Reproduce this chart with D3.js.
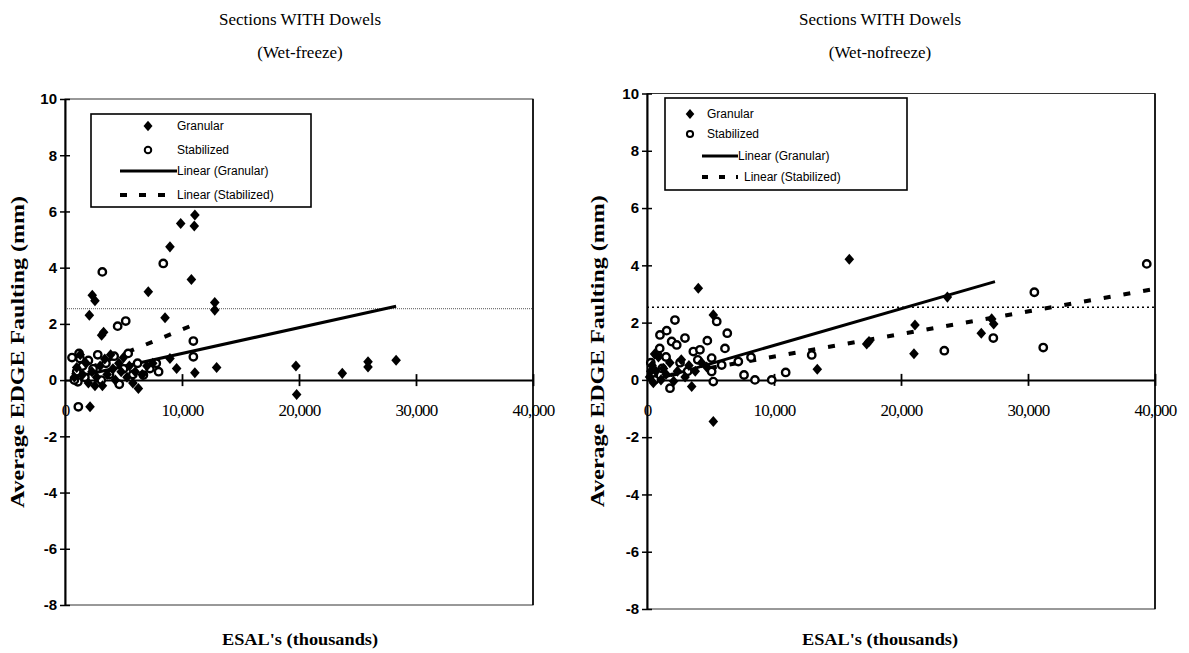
<!DOCTYPE html>
<html>
<head>
<meta charset="utf-8">
<script src="https://cdn.jsdelivr.net/npm/d3@7"></script>
<style>
  html, body { margin: 0; padding: 0; background: #fff; }
  svg { display: block; }
</style>
</head>
<body>
<svg id="chart" width="1189" height="653"></svg>
<script>
// ESAL's in thousands, average edge faulting in mm
const xTicks = [0, 10000, 20000, 30000, 40000];
const yTicks = [-8, -6, -4, -2, 0, 2, 4, 6, 8, 10];
const faultLimit = 2.54; // 0.1 in threshold

const legendLabels = ["Granular", "Stabilized", "Linear (Granular)", "Linear (Stabilized)"];

// Wet-freeze, granular base
const wetFreezeGranular = [
  [2330, 3.02], [2560, 2.82], [2080, 2.31], [7120, 3.14], [8970, 4.74], [9890, 5.57],
  [11100, 5.87], [11050, 5.48], [10800, 3.58], [12800, 2.76], [12800, 2.49], [8550, 2.22],
  [3130, 1.60], [3300, 1.70], [12960, 0.45], [11100, 0.26], [9540, 0.41], [8970, 0.77],
  [6270, -0.30], [2140, -0.95], [2560, -0.20], [19740, 0.50], [19800, -0.51], [23700, 0.24],
  [25900, 0.65], [25900, 0.47], [28300, 0.71],
  [800, 0.10], [1000, 0.45], [1300, 0.90], [1500, 0.20], [1800, 0.60], [2000, -0.10],
  [2300, 0.30], [2700, 0.10], [3000, 0.50], [3200, -0.20], [3400, 0.75], [3600, 0.20],
  [3900, 0.90], [4100, 0.40], [4300, 0.00], [4600, 0.60], [4800, 0.30], [5000, 0.80],
  [5300, 0.10], [5500, 0.50], [5800, -0.10], [6000, 0.30], [6600, 0.20], [7000, 0.50], [7500, 0.60]
];

// Wet-freeze, stabilized base
const wetFreezeStabilized = [
  [3190, 3.85], [8400, 4.15], [4500, 1.92], [5190, 2.10], [10970, 1.39], [10970, 0.83],
  [7260, 0.41], [6700, 0.18], [4640, -0.15], [1140, -0.95], [1280, 0.77], [1100, -0.06],
  [600, 0.80], [800, 0.00], [1000, 0.30], [1200, 0.95], [1500, 0.50], [1700, 0.10],
  [2000, 0.70], [2400, 0.40], [2800, 0.90], [3100, 0.00], [3500, 0.60], [3800, 0.20],
  [4200, 0.85], [5000, 0.40], [5400, 0.95], [5800, 0.20], [6200, 0.60], [7800, 0.60], [8000, 0.30]
];

// Wet-nofreeze, granular base
const wetNofreezeGranular = [
  [4040, 3.20], [15930, 4.21], [5220, 2.27], [13410, 0.37], [5220, -1.45], [3520, -0.23],
  [23650, 2.89], [21100, 1.92], [21020, 0.91], [17480, 1.34], [17300, 1.25], [26320, 1.63],
  [27140, 2.13], [27300, 1.95],
  [200, 0.10], [300, 0.30], [400, 0.50], [500, -0.10], [600, 0.90], [700, 0.30], [900, 0.80],
  [1100, 0.00], [1300, 0.40], [1500, 0.20], [1800, 0.60], [2100, -0.05], [2400, 0.30],
  [2700, 0.70], [3000, 0.10], [3300, 0.50], [3800, 0.30], [4300, 0.60], [4700, 0.45]
];

// Wet-nofreeze, stabilized base
const wetNofreezeStabilized = [
  [5490, 2.04], [6320, 1.63], [6140, 1.10], [4750, 1.37], [2200, 2.09], [1020, 1.57],
  [1550, 1.72], [2990, 1.46], [1940, 1.34], [2340, 1.22], [5090, 0.76], [5880, 0.52],
  [7190, 0.64], [8190, 0.79], [7640, 0.17], [8500, 0.00], [9820, 0.00], [10920, 0.26],
  [12970, 0.87], [5220, -0.06], [5090, 0.29], [1810, -0.29], [3650, 0.99], [4170, 1.05],
  [23410, 1.02], [27270, 1.46], [30500, 3.06], [31200, 1.13], [39350, 4.05],
  [300, 0.60], [500, 0.20], [600, 0.00], [800, 0.90], [1000, 1.10], [1200, 0.40],
  [1500, 0.80], [2600, 0.60], [3200, 0.30], [4000, 0.70]
];

// Linear trend endpoints [ESAL, faulting]
const wetFreezeTrendGranular = [[800, 0.10], [28300, 2.63]];
const wetFreezeTrendStabilized = [[600, 0.18], [11000, 1.97]];
const wetNofreezeTrendGranular = [[200, -0.05], [27400, 3.43]];
const wetNofreezeTrendStabilized = [[300, 0.05], [40000, 3.18]];

const SERIF = '"Liberation Serif", "Times New Roman", serif';
const SANS = '"Liberation Sans", Arial, sans-serif';
const NARROW = '"Liberation Sans Narrow", "Arial Narrow", "Liberation Sans", sans-serif';

const svg = d3.select("#chart");

function diamondPath(r) {
  return `M0,${-r * 1.15}L${r},0L0,${r * 1.15}L${-r},0Z`;
}

function drawPanel(p) {
  const x = d3.scaleLinear().domain([0, 40000]).range([p.left, p.right]);
  const y = d3.scaleLinear().domain([-8, 10]).range([p.bottom, p.top]);
  const g = svg.append("g");

  // titles
  g.append("text").style("font-family", SERIF).attr("x", p.cx).attr("y", 25)
    .attr("text-anchor", "middle").attr("font-size", 17).text("Sections WITH Dowels");
  g.append("text").style("font-family", SERIF).attr("x", p.cx).attr("y", 58)
    .attr("text-anchor", "middle").attr("font-size", 17).text(p.subtitle);

  // plot frame
  g.append("rect").attr("x", x(0)).attr("y", y(10))
    .attr("width", x(40000) - x(0)).attr("height", y(-8) - y(10))
    .attr("fill", "none").attr("stroke", "#333").attr("stroke-width", 1);
  g.append("line").attr("x1", x(40000)).attr("x2", x(40000)).attr("y1", y(10)).attr("y2", y(-8))
    .attr("stroke", "#000").attr("stroke-width", 1.6);

  // 0.1 in limit line
  g.append("line").attr("x1", x(0)).attr("x2", x(40000))
    .attr("y1", y(faultLimit)).attr("y2", y(faultLimit))
    .attr("stroke", p.limitColor).attr("stroke-width", p.limitWidth)
    .attr("stroke-dasharray", p.limitDash);

  // y axis
  const yAxis = d3.axisLeft(y).tickValues(yTicks).tickSize(0).tickPadding(8).tickFormat(d => String(d));
  const ya = g.append("g").attr("transform", `translate(${x(0)},0)`).call(yAxis);
  ya.select(".domain").attr("stroke", "#000").attr("stroke-width", 2);
  ya.selectAll(".tick text").style("font-family", SANS).style("font-size", "15px")
    .style("font-weight", "bold").attr("fill", "#000");
  ya.selectAll(".tick").append("line").attr("x1", -5).attr("x2", 5).attr("stroke", "#000").attr("stroke-width", 1.5);

  // x axis along zero faulting
  const xAxis = d3.axisBottom(x).tickValues(xTicks).tickSize(0).tickPadding(24).tickFormat(d3.format(","));
  const xa = g.append("g").attr("transform", `translate(0,${y(0)})`).call(xAxis);
  xa.select(".domain").attr("stroke", "#000").attr("stroke-width", 2);
  xa.selectAll(".tick text").style("font-family", SERIF).style("font-size", "17px").attr("fill", "#000")
    .style("letter-spacing", "-0.8px");
  xa.selectAll(".tick").filter(d => d > 0).append("line").attr("y1", -6).attr("y2", 6)
    .attr("stroke", "#000").attr("stroke-width", 1.8);

  // axis titles
  g.append("text").style("font-family", SERIF).attr("font-weight", "bold").attr("font-size", 18)
    .attr("transform", `translate(${p.yTitleX},${(y(10) + y(-8)) / 2}) rotate(-90)`)
    .attr("text-anchor", "middle").attr("textLength", 312).attr("lengthAdjust", "spacingAndGlyphs")
    .text("Average EDGE Faulting (mm)");
  g.append("text").style("font-family", SERIF).attr("font-weight", "bold").attr("font-size", 16)
    .attr("x", p.cx).attr("y", 645).attr("text-anchor", "middle")
    .attr("textLength", 156).attr("lengthAdjust", "spacingAndGlyphs").text("ESAL's (thousands)");

  // trend lines
  const line = d3.line().x(d => x(d[0])).y(d => y(d[1]));
  g.append("path").attr("d", line(p.trendStab)).attr("fill", "none").attr("stroke", "#000")
    .attr("stroke-width", 4).attr("stroke-dasharray", "7,13");
  g.append("path").attr("d", line(p.trendGran)).attr("fill", "none").attr("stroke", "#000")
    .attr("stroke-width", 3);

  // points
  g.append("g").selectAll("circle").data(p.stab).join("circle")
    .attr("cx", d => x(d[0])).attr("cy", d => y(d[1])).attr("r", 3.7)
    .attr("fill", "#fff").attr("stroke", "#000").attr("stroke-width", 2.4);
  g.append("g").selectAll("path").data(p.gran).join("path")
    .attr("d", diamondPath(4.8))
    .attr("transform", d => `translate(${x(d[0])},${y(d[1])})`).attr("fill", "#000");

  // legend
  const L = p.legend;
  const lg = g.append("g");
  lg.append("rect").attr("x", L.x0).attr("y", L.y0).attr("width", L.x1 - L.x0).attr("height", L.y1 - L.y0)
    .attr("fill", "#fff").attr("stroke", "#000").attr("stroke-width", 1.6);
  legendLabels.forEach((label, i) => {
    const ry = L.rows[i];
    const tx = i < 2 ? L.textX : (i === 2 ? L.lineTextX : L.dashTextX);
    lg.append("text").style("font-family", NARROW).style("font-stretch", "condensed")
      .attr("x", tx).attr("y", ry + 4)
      .attr("font-size", L.fontSize).attr("fill", "#000").text(label);
  });
  lg.append("path").attr("d", diamondPath(L.markR))
    .attr("transform", `translate(${L.symX},${L.rows[0]})`).attr("fill", "#000");
  lg.append("circle").attr("cx", L.symX).attr("cy", L.rows[1]).attr("r", L.markR * 0.72)
    .attr("fill", "#fff").attr("stroke", "#000").attr("stroke-width", 2);
  lg.append("line").attr("x1", L.lineX0).attr("x2", L.lineTextX).attr("y1", L.rows[2]).attr("y2", L.rows[2])
    .attr("stroke", "#000").attr("stroke-width", 3);
  lg.append("line").attr("x1", L.lineX0).attr("x2", L.dashX1).attr("y1", L.rows[3]).attr("y2", L.rows[3])
    .attr("stroke", "#000").attr("stroke-width", 4).attr("stroke-dasharray", L.dash);
}

drawPanel({
  subtitle: "(Wet-freeze)", cx: 300,
  left: 65, right: 533, top: 99, bottom: 605, yTitleX: 24,
  limitColor: "#555", limitWidth: 1, limitDash: "1,1",
  gran: wetFreezeGranular, stab: wetFreezeStabilized,
  trendGran: wetFreezeTrendGranular, trendStab: wetFreezeTrendStabilized,
  legend: { x0: 91, x1: 311, y0: 114, y1: 207, rows: [126, 150, 171, 195],
            symX: 148, textX: 177, lineX0: 120, lineTextX: 177, dashTextX: 177, dashX1: 172,
            dash: "7,12", fontSize: 12, markR: 4.5 }
});

drawPanel({
  subtitle: "(Wet-nofreeze)", cx: 880,
  left: 647, right: 1155, top: 93.5, bottom: 609, yTitleX: 604,
  limitColor: "#000", limitWidth: 1.5, limitDash: "2,3",
  gran: wetNofreezeGranular, stab: wetNofreezeStabilized,
  trendGran: wetNofreezeTrendGranular, trendStab: wetNofreezeTrendStabilized,
  legend: { x0: 665, x1: 907, y0: 98, y1: 190, rows: [114, 134, 156, 177],
            symX: 690, textX: 707, lineX0: 702, lineTextX: 738, dashTextX: 744, dashX1: 738,
            dash: "6,11", fontSize: 12, markR: 4.3 }
});
</script>
</body>
</html>
